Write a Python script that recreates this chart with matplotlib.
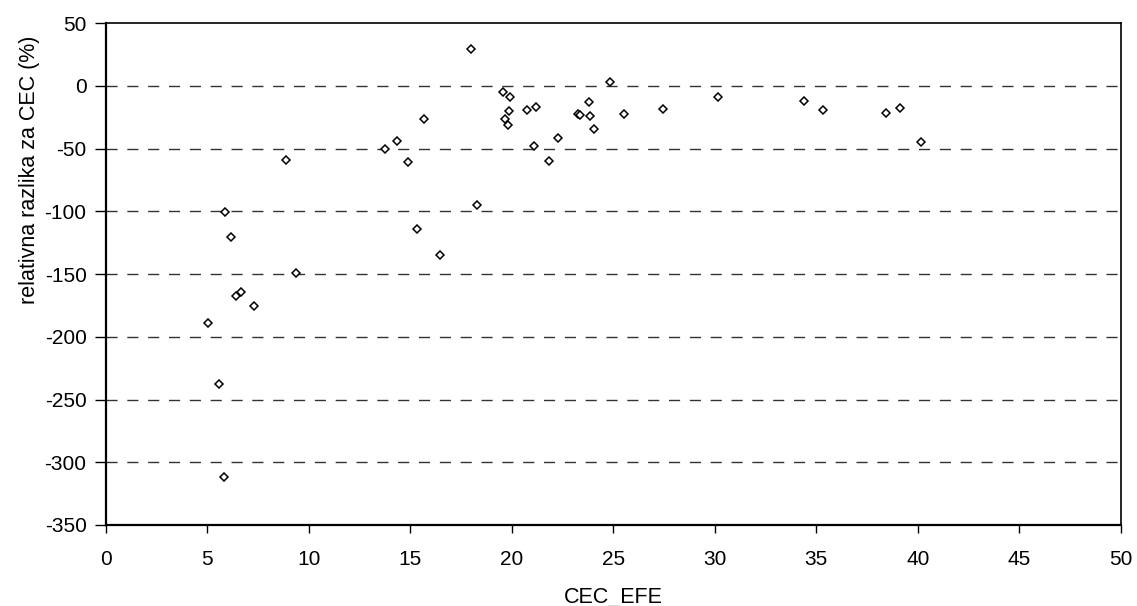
import matplotlib
matplotlib.use("Agg")
import matplotlib.pyplot as plt

plt.rcParams['font.family'] = ['Liberation Sans', 'DejaVu Sans']
plt.rcParams['axes.unicode_minus'] = False

cec_efe = [5.05, 5.59, 5.82, 5.86, 6.15, 6.41, 6.66, 7.30, 8.86, 9.37,
           13.76, 14.36, 14.87, 15.34, 15.65, 16.48, 18.01, 18.30, 19.54, 19.68,
           19.82, 19.88, 19.90, 20.75, 21.08, 21.18, 21.84, 22.27, 23.27, 23.34,
           23.78, 23.86, 24.03, 24.85, 25.51, 27.43, 30.14, 34.39, 35.31, 38.42,
           39.11, 40.17]
rel_diff = [-189.3, -237.6, -311.8, -100.1, -120.1, -167.2, -164.0, -175.7, -58.9, -149.0,
            -49.9, -44.0, -60.8, -114.2, -26.2, -134.4, 29.4, -94.8, -4.9, -26.7,
            -31.0, -20.1, -8.9, -19.0, -47.5, -16.6, -60.2, -41.6, -22.2, -23.5,
            -12.4, -24.1, -34.2, 3.3, -22.5, -18.2, -8.4, -11.8, -18.8, -21.7,
            -17.2, -44.5]

x_ticks = list(range(0, 51, 5))
y_ticks = list(range(-350, 51, 50))

fig = plt.figure(figsize=(11.37, 6.06), dpi=100)
ax = fig.add_axes([0.0932, 0.1337, 0.8925, 0.8279])

for yv in y_ticks[1:-1]:
    ax.axhline(yv, color='#333333', lw=1.0, ls=(0, (8, 7)), zorder=1)

ax.plot(cec_efe, rel_diff, ls='none', marker='D', ms=4.2, mfc='white',
        mec='black', mew=1.1, zorder=3)

ax.set_xlim(0, 50)
ax.set_ylim(-350, 50)
ax.set_xticks(x_ticks)
ax.set_yticks(y_ticks)
ax.tick_params(direction='out', length=6, width=1, labelsize=15, colors='black')
ax.tick_params(axis='y', length=8, pad=6)
ax.tick_params(axis='x', pad=12)

for side in ['left', 'bottom']:
    ax.spines[side].set_linewidth(1.6)
for side in ['top', 'right']:
    ax.spines[side].set_linewidth(1.2)

ax.set_xlabel('CEC_EFE', fontsize=15.5, labelpad=13)
ax.set_ylabel('relativna razlika za CEC (%)', fontsize=15.5)
ax.yaxis.set_label_coords(-0.065, 0.7076)

fig.savefig('out.png', dpi=100)
